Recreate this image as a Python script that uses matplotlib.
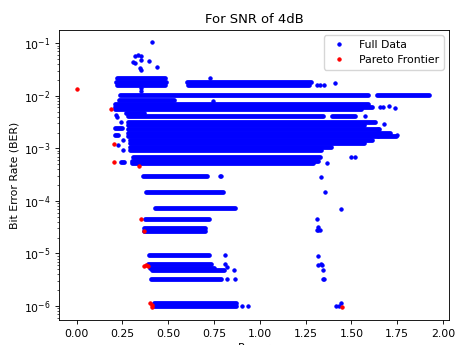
import numpy as np
import matplotlib
matplotlib.use("Agg")
import matplotlib.pyplot as plt

# scale factor of the original 640x480 figure
k = 0.786

# isolated points of the full data set (power, BER)
full_x = [0.412, 0.316, 0.334, 0.352, 0.306, 0.321, 0.352, 0.347, 0.352, 0.394, 0.438,
          0.73, 0.352, 0.352, 1.31, 1.33, 1.35, 1.41, 0.745,
          1.656, 1.675, 1.707, 1.738, 1.574,
          1.647, 1.70, 1.747, 1.68, 1.647,
          1.52, 1.50, 1.368,
          0.215, 0.219, 0.243, 0.252, 0.224, 0.252,
          0.78, 0.79, 0.808, 0.808, 0.82, 0.859, 0.823, 0.863, 0.905, 0.935,
          1.333, 1.357, 1.444, 1.313, 1.32, 1.31, 1.32, 1.33,
          1.317, 1.32, 1.335, 1.34, 1.344, 1.35, 1.345, 1.418, 1.43, 1.444]
full_ber = [0.105, 0.057, 0.059, 0.057, 0.0447, 0.0417, 0.048, 0.0334, 0.031, 0.0454, 0.0349,
            0.0218, 0.0140, 0.0125, 0.016, 0.016, 0.016, 0.0178, 0.0080,
            0.0061, 0.0061, 0.0063, 0.0058, 0.0042,
            0.00236, 0.0019, 0.00177, 0.00295, 0.0017,
            6.8e-4, 6.8e-4, 5.2e-4,
            4.25e-3, 4.0e-3, 3.17e-3, 1.42e-3, 1.14e-3, 9.5e-4,
            2.95e-4, 2.95e-4, 9.5e-6, 6.4e-6, 5.5e-6, 4.8e-6, 3.2e-6, 3.2e-6, 1.02e-6, 1.02e-6,
            2.9e-4, 1.5e-4, 7.0e-5, 4.6e-5, 3.2e-5, 2.8e-5, 2.8e-5, 2.8e-5,
            9.1e-6, 6.0e-6, 6.2e-6, 6.0e-6, 4.8e-6, 3.2e-6, 3.3e-6, 1.0e-6, 1.0e-6, 1.15e-6]

# dense runs of the full data set: BER level, first and last power
band_ber = [0.0214, 0.0187, 0.0163, 0.0185, 0.0160,
            0.0102, 0.0102, 0.0085,
            0.0071, 0.0062, 0.0055, 0.0048,
            0.0041, 0.0041, 0.00316, 0.00284,
            0.00233, 0.0020, 0.00171, 0.00147, 0.00126, 0.00108, 0.00093,
            6.8e-4, 5.85e-4, 5.2e-4, 5.6e-4,
            2.44e-3, 1.8e-3,
            2.95e-4, 1.5e-4, 7.2e-5, 4.6e-5, 3.1e-5, 2.66e-5,
            9.5e-6, 6.25e-6, 5.37e-6, 4.8e-6, 3.2e-6, 1.16e-6, 1.01e-6]
band_x0 = [0.22, 0.216, 0.22, 0.60, 0.61,
           0.234, 1.64, 0.23,
           0.21, 0.21, 0.21, 0.27,
           0.28, 1.393, 0.28, 0.28,
           0.28, 0.28, 0.28, 0.29, 0.29, 0.29, 0.29,
           0.307, 0.30, 0.30, 0.244,
           0.207, 0.21,
           0.362, 0.377, 0.426, 0.371, 0.368, 0.368,
           0.395, 0.39, 0.40, 0.41, 0.408, 0.42, 0.42]
band_x1 = [0.48, 0.49, 0.48, 1.28, 1.27,
           1.59, 1.925, 0.53,
           1.59, 1.61, 1.55, 0.37,
           1.345, 1.52, 1.63, 1.57,
           1.65, 1.71, 1.745, 1.61, 1.57, 1.39, 1.335,
           1.327, 1.32, 1.29, 0.26,
           0.25, 0.225,
           0.712, 0.798, 0.865, 0.72, 0.70, 0.70,
           0.725, 0.732, 0.75, 0.807, 0.79, 0.87, 0.87]

# Pareto frontier points
pareto_x = [0.0, 0.188, 0.203, 0.206, 0.339, 0.352, 0.365, 0.37, 0.38, 0.388,
            0.40, 0.41, 0.412, 1.448]
pareto_ber = [0.0135, 0.0056, 0.00123, 0.00054, 0.00046, 4.6e-5, 2.66e-5, 5.8e-6, 5.9e-6, 5.8e-6,
              1.15e-6, 1.05e-6, 9.6e-7, 9.6e-7]

plt.rcParams['font.size'] = 10 * k

fig = plt.figure(figsize=(4.56, 3.45), dpi=100)
ax = fig.add_axes([59 / 456, 25 / 345, 390 / 456, 290 / 345])

dot = (3 * k + 1 * k) * 1.1  # thickness of a run of '.' markers in points
bands = ax.hlines(band_ber, band_x0, band_x1, colors='b', linewidth=dot, zorder=2)
bands.set_capstyle('round')
ax.plot(full_x, full_ber, 'b.', ms=6 * k, mew=k, label='Full Data', zorder=2)
ax.plot(pareto_x, pareto_ber, 'r.', ms=6 * k, mew=k, label='Pareto Frontier', zorder=3)

ax.set_yscale('log')
ax.set_xlim(-0.0965, 2.033)
ax.set_ylim(10 ** -6.267, 10 ** -0.747)
ax.set_xticks([0.0, 0.25, 0.5, 0.75, 1.0, 1.25, 1.5, 1.75, 2.0])
ax.set_title('For SNR of 4dB', fontsize=12 * k, pad=6 * k)
ax.set_xlabel('Power', labelpad=4 * k)
ax.set_ylabel('Bit Error Rate (BER)', labelpad=4 * k)
ax.tick_params(which='major', length=3.5 * k, width=0.8 * k)
ax.tick_params(which='minor', length=2 * k, width=0.6 * k)
for s in ax.spines.values():
    s.set_linewidth(0.8 * k)
ax.legend(loc='upper right')

plt.savefig('out.png', dpi=100)
